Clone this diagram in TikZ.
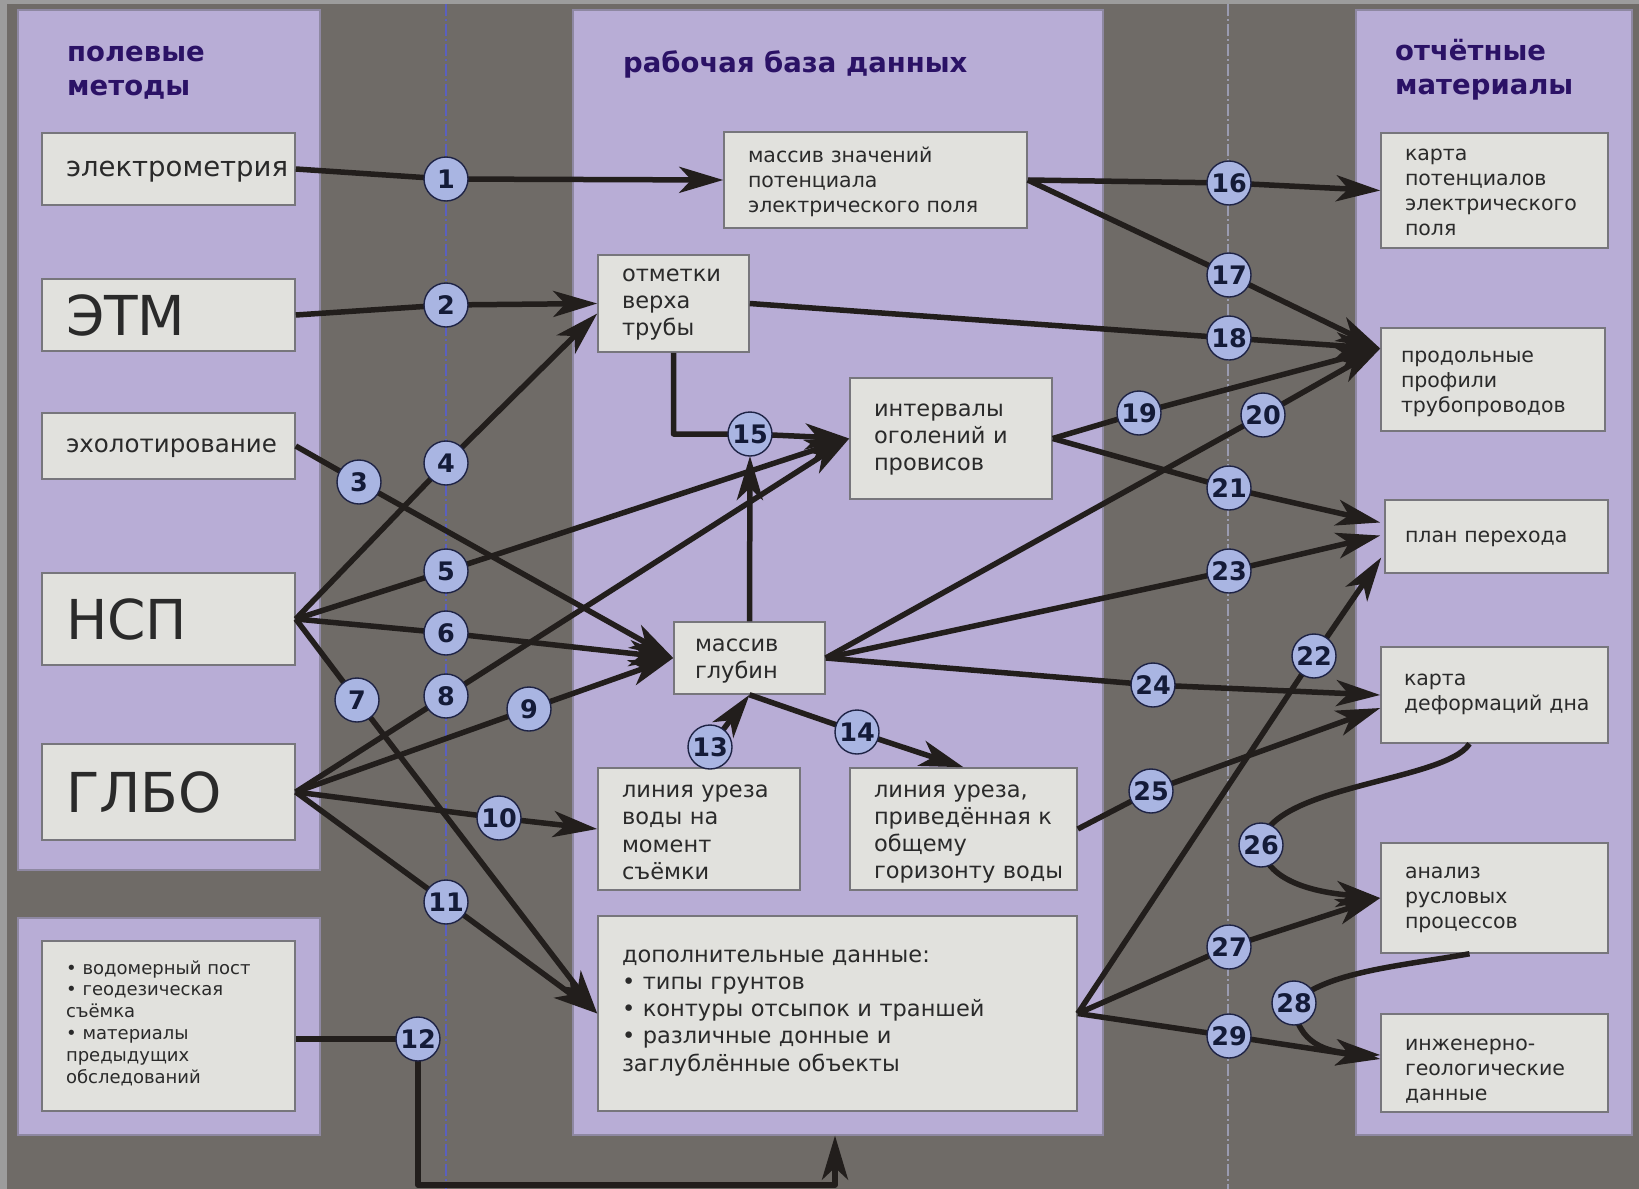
\documentclass[tikz,border=0pt]{standalone}
\usepackage{fontspec}
\setmainfont{DejaVu Sans}
\usetikzlibrary{arrows.meta,calc}
\hyphenpenalty=10000
\exhyphenpenalty=10000
\definecolor{bgdark}{HTML}{6F6B67}
\definecolor{bglight}{HTML}{9C9C9C}
\definecolor{lav}{HTML}{B8ADD6}
\definecolor{lavedge}{HTML}{8E88A2}
\definecolor{boxfill}{HTML}{E1E1DD}
\definecolor{boxedge}{HTML}{77767C}
\definecolor{txt}{HTML}{2A2A2A}
\definecolor{ttl}{HTML}{2B1266}
\definecolor{cfill}{HTML}{A9B5E2}
\definecolor{cedge}{HTML}{1E2345}
\definecolor{ctext}{HTML}{141B38}
\definecolor{wire}{HTML}{221E1C}
\definecolor{dashA}{HTML}{5A60C0}
\definecolor{dashB}{HTML}{9A9BB0}
\newcommand\fntTitle{\fontsize{27.5}{34}\selectfont\bfseries}
\newcommand\fntBig{\fontsize{55}{60}\selectfont}
\newcommand\fntEl{\fontsize{27.5}{30}\selectfont}
\newcommand\fntEcho{\fontsize{24.5}{28}\selectfont}
\newcommand\fntSmall{\fontsize{18}{21.8}\selectfont}
\newcommand\fntMid{\fontsize{20.5}{25}\selectfont}
\newcommand\fntLrg{\fontsize{22.5}{27.3}\selectfont}
\newcommand\fntNum{\fontsize{25.5}{25.5}\selectfont\bfseries}
\begin{document}
\begin{tikzpicture}[x=1pt,y=-1pt,
  panel/.style={draw=lavedge, line width=1.2pt, fill=lav, inner sep=0pt},
  box/.style={draw=boxedge, line width=1.5pt, fill=boxfill, text=txt, inner xsep=24pt, inner ysep=0pt, align=left},
  tb/.style={text height=0pt, text depth=#1},
  ttlsty/.style={text=ttl, font=\fntTitle, align=left, inner sep=0pt},
  wireln/.style={draw=wire, line width=5.5pt, line join=round},
  arr/.style={wireln, -{Stealth[length=44pt,width=26pt,inset=12pt]}},
  num/.style={circle, draw=cedge, line width=1.4pt, fill=cfill, minimum size=44pt, inner sep=0pt, font=\fntNum, text=ctext},
  dashline/.style={line width=1.2pt, dash pattern=on 12pt off 3pt on 2pt off 3pt}
]
\useasboundingbox (0,0) rectangle (1639,1189);
\fill[bglight] (0,0) rectangle (1639,1189);
\fill[bgdark] (7,4) rectangle (1639,1189);

% panels
\node[panel, minimum width=302pt, minimum height=860pt] (pL1) at (169,440) {};
\node[panel, minimum width=302pt, minimum height=217pt] (pL2) at (169,1026.5) {};
\node[panel, minimum width=530pt, minimum height=1125pt] (pM) at (838,572.5) {};
\node[panel, minimum width=276pt, minimum height=1125pt] (pR) at (1494,572.5) {};

% dashed guide lines
\draw[dashline, dashA] (446,4) -- (446,1189);
\draw[dashline, dashB] (1228,4) -- (1228,1189);

% titles
\node[ttlsty, anchor=west] (t1) at (67,72.5) {полевые\\методы};
\node[ttlsty, anchor=west] (t2) at (623,64) {рабочая база данных};
\node[ttlsty, anchor=west] (t3) at (1395,70) {отчётные\\материалы};

% left boxes
\node[box, minimum width=253pt, minimum height=72pt, text width=205pt, text depth=0pt, font=\fntEl] (elec) at (168.5,169) {электрометрия};
\node[box, minimum width=253pt, minimum height=72pt, text width=205pt, font=\fntBig] (etm) at (168.5,315) {ЭТМ};
\node[box, minimum width=253pt, minimum height=66pt, text width=205pt, text depth=0pt, font=\fntEcho] (echo) at (168.5,446) {эхолотирование};
\node[box, minimum width=253pt, minimum height=92pt, text width=205pt, font=\fntBig] (nsp) at (168.5,619) {НСП};
\node[box, minimum width=253pt, minimum height=96pt, text width=205pt, font=\fntBig] (glbo) at (168.5,792) {ГЛБО};
\node[box, minimum width=253pt, minimum height=170pt, text width=205pt, tb=104pt, font=\fntSmall] (bl) at (168.5,1026) {•~водомерный~пост\\•~геодезическая\\съёмка\\•~материалы\\предыдущих\\обследований};

% middle boxes
\node[box, minimum width=303pt, minimum height=96pt, text width=255pt, tb=35.5pt, font=\fntMid] (mz) at (875.5,180) {массив~значений\\потенциала\\электрического~поля};
\node[box, minimum width=151pt, minimum height=97pt, text width=103pt, tb=45pt, font=\fntLrg] (otm) at (673.5,303.5) {отметки\\верха\\трубы};
\node[box, minimum width=202pt, minimum height=121pt, text width=154pt, tb=45pt, font=\fntLrg] (int) at (951,438.5) {интервалы\\оголений~и\\провисов};
\node[box, minimum width=151pt, minimum height=72pt, text width=109pt, inner xsep=21pt, tb=14pt, font=\fntLrg] (glub) at (749.5,658) {массив\\глубин};
\node[box, minimum width=202pt, minimum height=122pt, text width=154pt, tb=63pt, font=\fntLrg] (lu) at (699,829) {линия~уреза\\воды~на\\момент\\съёмки};
\node[box, minimum width=227pt, minimum height=122pt, text width=179pt, tb=64pt, font=\fntLrg] (lp) at (963.5,829) {линия~уреза,\\приведённая~к\\общему\\горизонту~воды};
\node[box, minimum width=479pt, minimum height=195pt, text width=431pt, tb=103pt, font=\fntLrg] (dop) at (837.5,1013.5) {дополнительные~данные:\\•~типы~грунтов\\•~контуры~отсыпок~и~траншей\\•~различные~донные~и\\заглублённые~объекты};

% right boxes
\node[box, minimum width=227pt, minimum height=115pt, text width=179pt, tb=61pt, font=\fntMid] (kp) at (1494.5,190.5) {карта\\потенциалов\\электрического\\поля};
\node[box, minimum width=224pt, minimum height=103pt, text width=184pt, inner xsep=20pt, tb=35pt, font=\fntMid] (pp) at (1493,379.5) {продольные\\профили\\трубопроводов};
\node[box, minimum width=223pt, minimum height=73pt, text width=183pt, inner xsep=20pt, text depth=0pt, font=\fntMid] (plan) at (1496.5,536.5) {план~перехода};
\node[box, minimum width=227pt, minimum height=96pt, text width=181pt, inner xsep=23pt, tb=20pt, font=\fntMid] (kd) at (1494.5,695) {карта\\деформаций~дна};
\node[box, minimum width=227pt, minimum height=110pt, text width=179pt, tb=39pt, font=\fntMid] (anal) at (1494.5,898) {анализ\\русловых\\процессов};
\node[box, minimum width=227pt, minimum height=98pt, text width=179pt, tb=26pt, font=\fntMid] (ing) at (1494.5,1063) {инженерно-\\геологические\\данные};

% circle positions
\coordinate (c1) at (446,179);
\coordinate (c2) at (446,305);
\coordinate (c3) at (359,482);
\coordinate (c4) at (446,463);
\coordinate (c5) at (446,571);
\coordinate (c6) at (446,633);
\coordinate (c7) at (357,700);
\coordinate (c8) at (446,696);
\coordinate (c9) at (529,709);
\coordinate (c10) at (499,818);
\coordinate (c11) at (446,902);
\coordinate (c12) at (418,1039);
\coordinate (c13) at (710,747);
\coordinate (c14) at (857,732);
\coordinate (c15) at (750,434);
\coordinate (c16) at (1229,183);
\coordinate (c17) at (1229,275);
\coordinate (c18) at (1229,338);
\coordinate (c19) at (1139,413);
\coordinate (c20) at (1263,415);
\coordinate (c21) at (1229,488);
\coordinate (c22) at (1314,656);
\coordinate (c23) at (1229,571);
\coordinate (c24) at (1153,685);
\coordinate (c25) at (1151,791);
\coordinate (c26) at (1261,845);
\coordinate (c27) at (1229,947);
\coordinate (c28) at (1294,1003);
\coordinate (c29) at (1229,1036);

% auxiliary ends
\coordinate (otm4) at ($(otm.west)+(0,10)$);
\coordinate (ppin) at ($(pp.west)+(0,-31)$);
\coordinate (plan21) at ($(plan.west)+(-4,-14)$);
\coordinate (plan23) at ($(plan.west)+(-4,-1)$);
\coordinate (plan22) at ($(plan.west)+(-3,21)$);
\coordinate (kd25) at ($(kd.west)+(0,13)$);
\coordinate (ing28) at ($(ing.west)+(0,-8)$);
\coordinate (ing29) at ($(ing.west)+(0,-4)$);
\coordinate (kdS) at ($(kd.south)+(-25,0)$);
\coordinate (anS) at ($(anal.south)+(-25,0)$);
\coordinate (bot) at (0,1185);
\coordinate (midin) at ($(pM.south)+(-3,0)$);
\coordinate (c15b) at ($(c15)+(0,22)$);

% connectors
\draw[arr] (elec.east) -- (c1) -- (mz.west);
\draw[arr] (etm.east) -- (c2) -- (otm.west);
\draw[arr] (echo.east) -- (c3) -- (glub.west);
\draw[arr] (nsp.east) -- (c4) -- (otm4);
\draw[arr] (nsp.east) -- (c5) -- (int.west);
\draw[arr] (nsp.east) -- (c6) -- (glub.west);
\draw[arr] (nsp.east) -- (c7) -- (dop.west);
\draw[arr] (glbo.east) -- (c8) -- (int.west);
\draw[arr] (glbo.east) -- (c9) -- (glub.west);
\draw[arr] (glbo.east) -- (c10) -- (lu.west);
\draw[arr] (glbo.east) -- (c11) -- (dop.west);
\draw[arr] (bl.east |- c12) -- (c12) -- (c12 |- bot) -- (midin |- bot) -- (midin);
\draw[arr] (lu.north -| c13) -- (c13) -- (glub.south);
\draw[arr] (glub.south) -- (c14) -- (lp.north);
\draw[arr] (otm.south) -- (otm.south |- c15) -- (c15) -- (int.west);
\draw[arr] (glub.north) -- (c15b);
\draw[arr] (mz.east) -- (c16) -- (kp.west);
\draw[arr] (mz.east) -- (c17) -- (ppin);
\draw[arr] (otm.east) -- (c18) -- (ppin);
\draw[arr] (int.east) -- (c19) -- (ppin);
\draw[arr] (glub.east) -- (c20) -- (ppin);
\draw[arr] (int.east) -- (c21) -- (plan21);
\draw[arr] (dop.east) -- (c22) -- (plan22);
\draw[arr] (glub.east) -- (c23) -- (plan23);
\draw[arr] (glub.east) -- (c24) -- (kd.west);
\draw[arr] (lp.east) -- (c25) -- (kd25);
\draw[arr] (kdS) .. controls (1445,782) and (1268,785) .. (c26) .. controls (1266,885) and (1325,893) .. (anal.west);
\draw[arr] (dop.east) -- (c27) -- (anal.west);
\draw[arr] (anS) .. controls (1400,966) and (1325,972) .. (c28) .. controls (1296,1045) and (1330,1052) .. (ing28);
\draw[arr] (dop.east) -- (c29) -- (ing29);

% number circles
\foreach \i in {1,...,29} \node[num] (n\i) at (c\i) {\i};
\end{tikzpicture}
\end{document}
